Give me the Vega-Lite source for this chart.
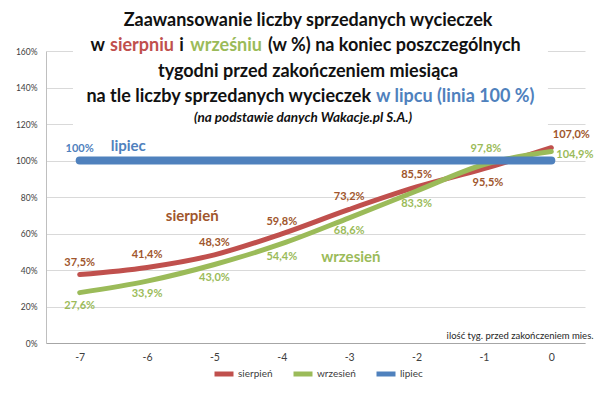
{
  "$schema": "https://vega.github.io/schema/vega-lite/v6.json",
  "width": 539,
  "height": 292,
  "autosize": {"type": "none"},
  "padding": {"left": 46, "top": 51, "right": 15, "bottom": 51},
  "background": "white",
  "config": {
    "view": {"stroke": null},
    "font": "Lato",
    "locale": {"number": {"decimal": ",", "thousands": "\u00a0", "grouping": [3], "currency": ["", " zł"], "minus": "-", "percent": "%"}},
    "text": {"font": "Lato"}
  },
  "datasets": {
    "d": [
      {"week": -7, "series": "sierpień", "value": 0.375},
      {"week": -6, "series": "sierpień", "value": 0.414},
      {"week": -5, "series": "sierpień", "value": 0.483},
      {"week": -4, "series": "sierpień", "value": 0.598},
      {"week": -3, "series": "sierpień", "value": 0.732},
      {"week": -2, "series": "sierpień", "value": 0.855},
      {"week": -1, "series": "sierpień", "value": 0.955},
      {"week": 0, "series": "sierpień", "value": 1.070},
      {"week": -7, "series": "wrzesień", "value": 0.276},
      {"week": -6, "series": "wrzesień", "value": 0.339},
      {"week": -5, "series": "wrzesień", "value": 0.430},
      {"week": -4, "series": "wrzesień", "value": 0.544},
      {"week": -3, "series": "wrzesień", "value": 0.686},
      {"week": -2, "series": "wrzesień", "value": 0.833},
      {"week": -1, "series": "wrzesień", "value": 0.978},
      {"week": 0, "series": "wrzesień", "value": 1.049},
      {"week": -7, "series": "lipiec", "value": 1.0},
      {"week": -6, "series": "lipiec", "value": 1.0},
      {"week": -5, "series": "lipiec", "value": 1.0},
      {"week": -4, "series": "lipiec", "value": 1.0},
      {"week": -3, "series": "lipiec", "value": 1.0},
      {"week": -2, "series": "lipiec", "value": 1.0},
      {"week": -1, "series": "lipiec", "value": 1.0},
      {"week": 0, "series": "lipiec", "value": 1.0}
    ]
  },
  "data": {"name": "d"},
  "encoding": {
    "x": {
      "field": "week", "type": "quantitative",
      "scale": {"domain": [-7.5, 0.5], "nice": false, "zero": false},
      "axis": {
        "values": [-7, -6, -5, -4, -3, -2, -1, 0], "format": "d", "grid": false, "ticks": false, "labelOverlap": false,
        "domainColor": "#a6a6a6", "labelColor": "#404040", "labelFontSize": 10.5, "labelPadding": 9, "labelFont": "Lato",
        "title": "ilość tyg. przed zakończeniem mies.", "titleFont": "Lato", "titleFontWeight": "normal", "titleFontSize": 9.5,
        "titleColor": "#262626", "titleAnchor": "end", "titleAlign": "right", "titleBaseline": "middle", "titleX": 547, "titleY": -8
      }
    },
    "y": {
      "field": "value", "type": "quantitative",
      "scale": {"domain": [0, 1.6], "nice": false},
      "axis": {
        "values": [0, 0.2, 0.4, 0.6, 0.8, 1.0, 1.2, 1.4, 1.6], "format": ".0%", "grid": true, "gridColor": "#d9d9d9", "labelOverlap": false,
        "ticks": false, "domainColor": "#bfbfbf", "labelColor": "#404040", "labelFontSize": 8.5, "labelPadding": 9, "labelFont": "Lato",
        "title": null
      }
    }
  },
  "layer": [
    {
      "transform": [{"filter": "datum.series == 'lipiec' && datum.week == -7"}],
      "mark": {"type": "rect", "color": "white"},
      "encoding": {
        "x": {"datum": -7.1, "type": "quantitative"},
        "x2": {"datum": -0.05},
        "y": {"datum": 1.18, "type": "quantitative"},
        "y2": {"datum": 1.62}
      }
    },
    {
      "transform": [{"filter": "datum.series != 'lipiec'"}],
      "mark": {"type": "line", "strokeWidth": 5, "strokeCap": "round", "interpolate": "monotone"},
      "encoding": {
        "color": {
          "field": "series", "type": "nominal",
          "scale": {"domain": ["sierpień", "wrzesień", "lipiec"], "range": ["#C0504D", "#9BBB59", "#4F81BD"]},
          "legend": {
            "orient": "none", "legendX": 166, "legendY": 311, "direction": "horizontal", "title": null,
            "symbolType": "stroke", "symbolSize": 361, "symbolStrokeWidth": 5, "labelFont": "Lato", "labelFontSize": 10,
            "labelColor": "#404040", "labelOffset": 2, "columnPadding": 10
          }
        }
      }
    },
    {
      "transform": [{"filter": "datum.series == 'lipiec'"}],
      "mark": {"type": "line", "strokeWidth": 8, "strokeCap": "round"},
      "encoding": {"color": {"field": "series", "type": "nominal"}}
    },
    {
      "transform": [{"filter": "datum.series == 'sierpień' && datum.week <= -2"}],
      "mark": {"type": "text", "dy": -12, "fontWeight": "bold", "fontSize": 11, "color": "#A0562C"},
      "encoding": {"text": {"field": "value", "format": ".1%"}}
    },
    {
      "transform": [{"filter": "datum.series == 'sierpień' && datum.week == -1"}],
      "mark": {"type": "text", "dy": 14, "dx": 4, "fontWeight": "bold", "fontSize": 11, "color": "#A0562C"},
      "encoding": {"text": {"field": "value", "format": ".1%"}}
    },
    {
      "transform": [{"filter": "datum.series == 'sierpień' && datum.week == 0"}],
      "mark": {"type": "text", "dy": -13, "dx": 20, "fontWeight": "bold", "fontSize": 11, "color": "#A0562C"},
      "encoding": {"text": {"field": "value", "format": ".1%"}}
    },
    {
      "transform": [{"filter": "datum.series == 'wrzesień' && datum.week <= -2"}],
      "mark": {"type": "text", "dy": 13, "fontWeight": "bold", "fontSize": 11, "color": "#9BBB59"},
      "encoding": {"text": {"field": "value", "format": ".1%"}}
    },
    {
      "transform": [{"filter": "datum.series == 'wrzesień' && datum.week == -1"}],
      "mark": {"type": "text", "dy": -16, "dx": 2, "fontWeight": "bold", "fontSize": 11, "color": "#9BBB59"},
      "encoding": {"text": {"field": "value", "format": ".1%"}}
    },
    {
      "transform": [{"filter": "datum.series == 'wrzesień' && datum.week == 0"}],
      "mark": {"type": "text", "align": "left", "dy": 3, "dx": 5, "fontWeight": "bold", "fontSize": 11, "color": "#9BBB59"},
      "encoding": {"text": {"field": "value", "format": ".1%"}}
    },
    {
      "transform": [{"filter": "datum.series == 'lipiec' && datum.week == -7"}],
      "mark": {"type": "text", "dy": -12, "fontWeight": "bold", "fontSize": 11, "color": "#4F81BD"},
      "encoding": {"text": {"field": "value", "format": ".0%"}}
    },
    {
      "transform": [{"filter": "datum.series == 'lipiec' && datum.week == -7"}],
      "mark": {"type": "text", "text": "lipiec", "fontWeight": "bold", "fontSize": 15, "color": "#4F81BD"},
      "encoding": {"x": {"datum": -6.28, "type": "quantitative"}, "y": {"datum": 1.077, "type": "quantitative"}}
    },
    {
      "transform": [{"filter": "datum.series == 'lipiec' && datum.week == -7"}],
      "mark": {"type": "text", "text": "sierpień", "fontWeight": "bold", "fontSize": 15, "color": "#A0562C"},
      "encoding": {"x": {"datum": -5.33, "type": "quantitative"}, "y": {"datum": 0.698, "type": "quantitative"}}
    },
    {
      "transform": [{"filter": "datum.series == 'lipiec' && datum.week == -7"}],
      "mark": {"type": "text", "text": "wrzesień", "fontWeight": "bold", "fontSize": 15, "color": "#9BBB59"},
      "encoding": {"x": {"datum": -2.975, "type": "quantitative"}, "y": {"datum": 0.473, "type": "quantitative"}}
    },
    {
      "transform": [{"filter": "datum.series == 'lipiec' && datum.week == -7"}],
      "mark": {"type": "text", "text": "Zaawansowanie liczby sprzedanych wycieczek", "fontWeight": "bold", "fontSize": 18, "color": "#111111"},
      "encoding": {"x": {"datum": -3.611, "type": "quantitative"}, "y": {"datum": 1.764, "type": "quantitative"}}
    },
    {
      "transform": [{"filter": "datum.series == 'lipiec' && datum.week == -7"}],
      "mark": {"type": "text", "align": "right", "text": "w", "fontWeight": "bold", "fontSize": 18, "color": "#111111"},
      "encoding": {"x": {"datum": -6.624, "type": "quantitative"}, "y": {"datum": 1.627, "type": "quantitative"}}
    },
    {
      "transform": [{"filter": "datum.series == 'lipiec' && datum.week == -7"}],
      "mark": {"type": "text", "align": "left", "text": "sierpniu", "fontWeight": "bold", "fontSize": 18, "color": "#C0504D"},
      "encoding": {"x": {"datum": -6.55, "type": "quantitative"}, "y": {"datum": 1.627, "type": "quantitative"}}
    },
    {
      "transform": [{"filter": "datum.series == 'lipiec' && datum.week == -7"}],
      "mark": {"type": "text", "align": "center", "text": "i", "fontWeight": "bold", "fontSize": 18, "color": "#111111"},
      "encoding": {"x": {"datum": -5.489, "type": "quantitative"}, "y": {"datum": 1.627, "type": "quantitative"}}
    },
    {
      "transform": [{"filter": "datum.series == 'lipiec' && datum.week == -7"}],
      "mark": {"type": "text", "align": "right", "text": "wrześniu", "fontWeight": "bold", "fontSize": 18, "color": "#9BBB59"},
      "encoding": {"x": {"datum": -4.294, "type": "quantitative"}, "y": {"datum": 1.627, "type": "quantitative"}}
    },
    {
      "transform": [{"filter": "datum.series == 'lipiec' && datum.week == -7"}],
      "mark": {"type": "text", "align": "left", "text": "(w %) na koniec poszczególnych", "fontWeight": "bold", "fontSize": 18, "color": "#111111"},
      "encoding": {"x": {"datum": -4.205, "type": "quantitative"}, "y": {"datum": 1.627, "type": "quantitative"}}
    },
    {
      "transform": [{"filter": "datum.series == 'lipiec' && datum.week == -7"}],
      "mark": {"type": "text", "text": "tygodni przed zakończeniem miesiąca", "fontWeight": "bold", "fontSize": 18, "color": "#111111"},
      "encoding": {"x": {"datum": -3.611, "type": "quantitative"}, "y": {"datum": 1.485, "type": "quantitative"}}
    },
    {
      "transform": [{"filter": "datum.series == 'lipiec' && datum.week == -7"}],
      "mark": {"type": "text", "align": "right", "text": "na tle liczby sprzedanych wycieczek", "fontWeight": "bold", "fontSize": 18, "color": "#111111"},
      "encoding": {"x": {"datum": -2.676, "type": "quantitative"}, "y": {"datum": 1.348, "type": "quantitative"}}
    },
    {
      "transform": [{"filter": "datum.series == 'lipiec' && datum.week == -7"}],
      "mark": {"type": "text", "align": "left", "text": "w lipcu (linia 100 %)", "fontWeight": "bold", "fontSize": 18, "color": "#4F81BD"},
      "encoding": {"x": {"datum": -2.602, "type": "quantitative"}, "y": {"datum": 1.348, "type": "quantitative"}}
    },
    {
      "transform": [{"filter": "datum.series == 'lipiec' && datum.week == -7"}],
      "mark": {"type": "text", "text": "(na podstawie danych Wakacje.pl S.A.)", "fontWeight": "bold", "fontStyle": "italic", "fontSize": 13.5, "color": "#111111"},
      "encoding": {"x": {"datum": -3.686, "type": "quantitative"}, "y": {"datum": 1.233, "type": "quantitative"}}
    }
  ]
}
